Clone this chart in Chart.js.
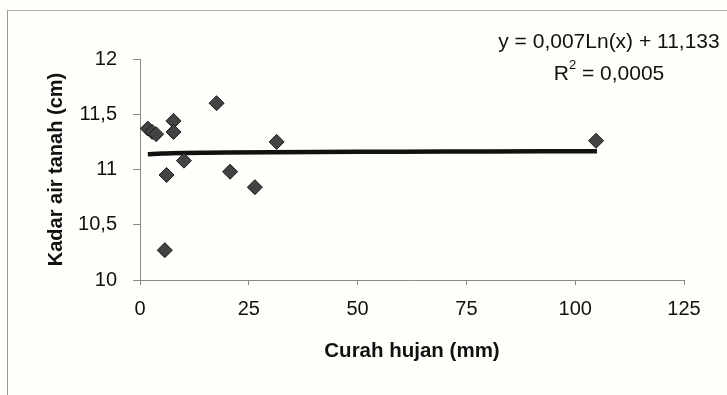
<!DOCTYPE html>
<html>
<head>
<meta charset="utf-8">
<script src="https://cdn.jsdelivr.net/npm/chart.js@4/dist/chart.umd.min.js"></script>
<style>
  html, body { margin: 0; padding: 0; background: #fefefa; }
  #wrap { position: relative; width: 727px; height: 395px; overflow: hidden; }
  #frame { position: absolute; left: 7px; top: 10px; width: 800px; height: 500px;
           border-left: 1px solid #9a9a9a; border-top: 1px solid #b0b0b0; }
  canvas { position: absolute; left: 0; top: 0; }
</style>
</head>
<body>
<div id="wrap">
  <div id="frame"></div>
  <canvas id="c" width="727" height="395"></canvas>
</div>
<script>
// Rainfall (mm) vs groundwater level (cm)
const rainfall   = [1.8, 2.8, 3.7, 7.7, 7.7, 17.6, 31.4, 10.1, 6.1, 20.7, 26.4, 5.7, 104.8];
const waterLevel = [11.37, 11.34, 11.32, 11.44, 11.34, 11.60, 11.25, 11.08, 10.95, 10.98, 10.84, 10.27, 11.26];

const xTicks = [0, 25, 50, 75, 100, 125];
const yTicks = [10, 10.5, 11, 11.5, 12];

// Logarithmic trend: y = a*ln(x) + b
const trendA = 0.007;
const trendB = 11.133;
const trendR2 = '0,0005';
const trendX = [1.8, 5, 10, 20, 40, 60, 80, 105];

const comma = v => String(v).replace('.', ',');

const trendPoints = trendX.map(x => ({ x: x, y: trendA * Math.log(x) + trendB }));
const scatterPoints = rainfall.map((x, i) => ({ x: x, y: waterLevel[i] }));

const FONT = "'Liberation Sans', Arial, sans-serif";

const equationLabel = {
  id: 'equationLabel',
  afterDraw(chart) {
    const ctx = chart.ctx;
    ctx.save();
    ctx.fillStyle = '#111';
    ctx.textBaseline = 'middle';
    ctx.font = '21px ' + FONT;
    const cx = 609;
    const line1 = 'y = ' + comma(trendA) + 'Ln(x) + ' + comma(trendB);
    ctx.textAlign = 'center';
    ctx.fillText(line1, cx, 42);

    // R² line with superscript
    const partR = 'R';
    const partRest = ' = ' + trendR2;
    ctx.font = '21px ' + FONT;
    const wR = ctx.measureText(partR).width;
    const wRest = ctx.measureText(partRest).width;
    ctx.font = '13px ' + FONT;
    const w2 = ctx.measureText('2').width;
    const total = wR + w2 + wRest;
    let x0 = cx - total / 2;
    ctx.textAlign = 'left';
    ctx.font = '21px ' + FONT;
    ctx.fillText(partR, x0, 74);
    ctx.font = '13px ' + FONT;
    ctx.fillText('2', x0 + wR, 65);
    ctx.font = '21px ' + FONT;
    ctx.fillText(partRest, x0 + wR + w2, 74);
    ctx.restore();
  }
};

new Chart(document.getElementById('c'), {
  type: 'scatter',
  data: {
    datasets: [
      {
        type: 'line',
        data: trendPoints,
        borderColor: '#111',
        borderWidth: 4.5,
        pointRadius: 0,
        fill: false,
        tension: 0.3,
        order: 2
      },
      {
        data: scatterPoints,
        pointStyle: 'rectRot',
        pointRadius: 7.5,
        backgroundColor: '#434343',
        borderColor: '#1a1a1a',
        borderWidth: 1,
        order: 1
      }
    ]
  },
  options: {
    responsive: false,
    animation: false,
    devicePixelRatio: 1,
    layout: { padding: { left: 0, top: 59, right: 43, bottom: 0 } },
    plugins: { legend: { display: false }, tooltip: { enabled: false } },
    scales: {
      x: {
        type: 'linear',
        min: 0, max: 125,
        afterBuildTicks: s => { s.ticks = xTicks.map(v => ({ value: v })); },
        afterFit: s => { s.height = 115; },
        border: { color: '#8a8a8a', width: 1 },
        grid: { drawOnChartArea: false, drawTicks: true, tickLength: 5, tickColor: '#8a8a8a' },
        ticks: { color: '#111', font: { family: FONT, size: 20 }, padding: 12, callback: v => comma(v) },
        title: { display: true, text: 'Curah hujan (mm)', color: '#111',
                 font: { family: FONT, size: 20.5, weight: 'bold' }, padding: { top: 0, bottom: 31 } }
      },
      y: {
        type: 'linear',
        min: 10, max: 12,
        afterBuildTicks: s => { s.ticks = yTicks.map(v => ({ value: v })); },
        afterFit: s => { s.width = 140; },
        border: { color: '#8a8a8a', width: 1 },
        grid: { drawOnChartArea: false, drawTicks: true, tickLength: 7, tickColor: '#8a8a8a' },
        ticks: { color: '#111', font: { family: FONT, size: 20 }, padding: 16, callback: v => comma(v) },
        title: { display: true, text: 'Kadar air tanah (cm)', color: '#111',
                 font: { family: FONT, size: 20, weight: 'bold' }, padding: { top: 44, bottom: 0 } }
      }
    }
  },
  plugins: [equationLabel]
});
</script>
</body>
</html>
